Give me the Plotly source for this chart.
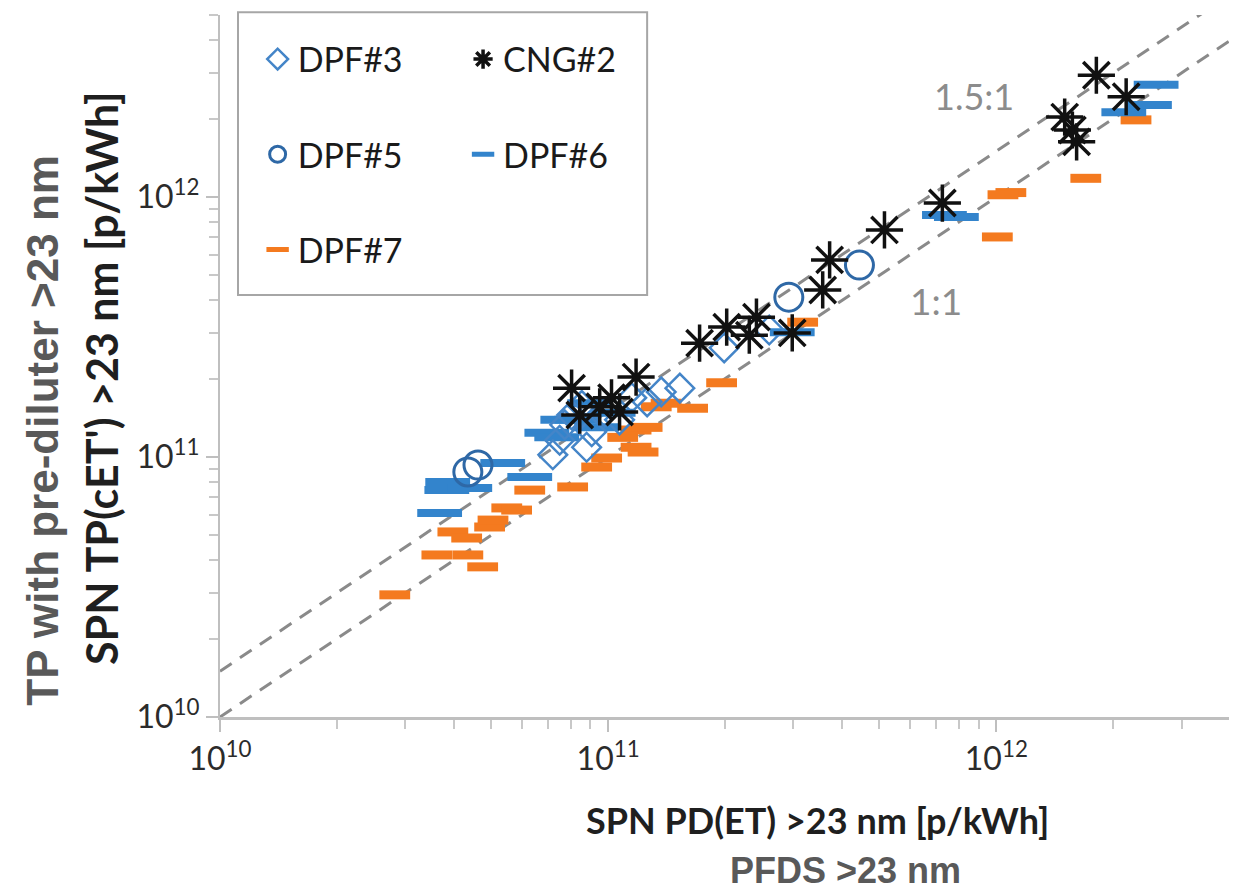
import plotly.graph_objects as go

# Particle number emissions [p/kWh]
dpf3_x = [7.20e10, 7.50e10, 7.73e10, 8.05e10, 8.55e10, 8.80e10, 9.07e10, 9.80e10,
          1.07e11, 1.15e11, 1.26e11, 1.37e11, 1.53e11, 1.99e11, 2.60e11]
dpf3_y = [1.02e11, 1.16e11, 1.33e11, 1.45e11, 1.58e11, 1.09e11, 1.25e11, 1.49e11,
          1.39e11, 1.69e11, 1.63e11, 1.78e11, 1.84e11, 2.63e11, 3.08e11]

dpf5_x = [4.35e10, 4.62e10, 2.92e11, 4.44e11]
dpf5_y = [8.76e10, 9.31e10, 4.12e11, 5.47e11]

cng2_x = [8.05e10, 8.45e10, 9.51e10, 1.02e11, 1.07e11, 1.18e11, 1.72e11, 2.02e11,
          2.31e11, 2.41e11, 2.98e11, 3.57e11, 3.72e11, 5.15e11, 7.26e11, 1.50e12,
          1.57e12, 1.61e12, 1.81e12, 2.16e12]
cng2_y = [1.84e11, 1.45e11, 1.56e11, 1.69e11, 1.49e11, 2.03e11, 2.74e11, 3.16e11,
          2.94e11, 3.45e11, 3.00e11, 4.39e11, 5.73e11, 7.47e11, 9.48e11, 2.03e12,
          1.81e12, 1.63e12, 2.94e12, 2.43e12]

dpf6_x = [3.68e10, 3.86e10, 3.84e10, 4.40e10, 5.35e10, 6.28e10, 6.95e10, 7.37e10,
          7.64e10, 8.30e10, 8.96e10, 9.34e10, 1.03e11, 2.98e11, 7.35e11, 7.89e11,
          2.58e12, 2.48e12, 2.13e12]
dpf6_y = [6.09e10, 8.01e10, 7.47e10, 7.60e10, 9.48e10, 8.38e10, 1.24e11, 1.19e11,
          1.39e11, 1.39e11, 1.61e11, 1.30e11, 1.48e11, 3.02e11, 8.53e11, 8.38e11,
          2.70e12, 2.26e12, 2.12e12]

dpf7_x = [2.82e10, 3.62e10, 4.35e10, 4.75e10, 3.98e10, 4.32e10, 4.95e10, 5.05e10,
          5.48e10, 5.81e10, 6.28e10, 8.10e10, 9.34e10, 9.91e10, 1.09e11, 1.18e11,
          1.18e11, 1.23e11, 1.26e11, 1.33e11, 1.41e11, 1.65e11, 1.96e11, 3.17e11,
          1.006e12, 1.09e12, 1.04e12, 1.70e12, 2.29e12]
dpf7_y = [2.95e10, 4.20e10, 4.20e10, 3.78e10, 5.15e10, 4.88e10, 5.38e10, 5.72e10,
          6.37e10, 6.25e10, 7.46e10, 7.67e10, 9.15e10, 9.91e10, 1.19e11, 1.27e11,
          1.09e11, 1.045e11, 1.30e11, 1.56e11, 1.61e11, 1.54e11, 1.93e11, 3.30e11,
          7.02e11, 1.04e12, 1.02e12, 1.18e12, 1.98e12]

# reference lines 1:1 and 1.5:1
ref_x = [1e10, 1e13]
ratios = [1.0, 1.5]

major_vals = [1e10, 1e11, 1e12]
major_text = ['10<sup>10</sup>', '10<sup>11</sup>', '10<sup>12</sup>']
minor_vals = [m * d for d in (1e10, 1e11, 1e12) for m in range(2, 10)]

fig = go.Figure()

for r in ratios:
    fig.add_trace(go.Scatter(
        x=ref_x, y=[r * v for v in ref_x], mode='lines',
        line=dict(color='#8a8a8a', width=3, dash='14px,10px'),
        showlegend=False, hoverinfo='skip'))

# name, x, y, symbol, size, color, line width, legend, rank
series = [
    ('DPF#7', dpf7_x, dpf7_y, 'line-ew-open', 22, '#f47a1f', 9, 'legend', 3),
    ('DPF#6', dpf6_x, dpf6_y, 'line-ew-open', 32, '#3384cc', 8, 'legend2', 2),
    ('DPF#3', dpf3_x, dpf3_y, 'diamond-open', 22, '#4485c8', 2.5, 'legend', 1),
    ('DPF#5', dpf5_x, dpf5_y, 'circle-open', 28, '#2e68a6', 3, 'legend', 2),
    ('CNG#2', cng2_x, cng2_y, 'asterisk-open', 31, '#111111', 3.5, 'legend2', 1),
]

for name, xs, ys, sym, size, color, lw, leg, rank in series:
    fig.add_trace(go.Scatter(
        x=xs, y=ys, mode='markers', name=name,
        marker=dict(symbol=sym, size=size, color=color,
                    line=dict(color=color, width=lw)),
        legend=leg, legendgroup=name, legendrank=rank))

axis_common = dict(
    type='log',
    showline=True, linecolor='#bfbfbf',
    ticks='outside', ticklen=12, tickwidth=2, tickcolor='#bfbfbf',
    tickvals=major_vals, ticktext=major_text,
    tickfont=dict(family='Lato', size=32, color='#2b2b2b'),
    minor=dict(tickvals=minor_vals, ticks='outside', ticklen=9,
               tickwidth=2, tickcolor='#c8c8c8', showgrid=False),
    showgrid=False, zeroline=False,
)

legend_style = dict(y=0.978, xanchor='left', yanchor='top',
                    bgcolor='rgba(0,0,0,0)', borderwidth=0, tracegroupgap=48,
                    font=dict(family='Lato', size=34, color='#1a1a1a'))

# the page body adds an 8px offset, so margins are shifted to compensate
fig.update_layout(
    width=1237, height=890,
    margin=dict(l=212, r=8, t=7, b=181),
    plot_bgcolor='white', paper_bgcolor='white',
    xaxis=dict(range=[10, 12.62], linewidth=3, **axis_common),
    yaxis=dict(range=[10, 12.7], linewidth=2, **axis_common),
    legend=dict(x=0.037, **legend_style),
    legend2=dict(x=0.239, **legend_style),
    shapes=[dict(type='rect', xref='paper', yref='paper',
                 x0=0.0177, x1=0.42, y0=0.601, y1=1.004,
                 line=dict(color='#a6a6a6', width=2), fillcolor='rgba(0,0,0,0)')],
)

def note(x, y, text, size, color, family='Lato', angle=0):
    fig.add_annotation(x=x, y=y, xref='paper', yref='paper', text=text,
                       xanchor='center', yanchor='middle', textangle=angle,
                       showarrow=False, font=dict(family=family, size=size, color=color))

note(0.741, 0.885, '1.5:1', 36, '#8c8c8c')
note(0.704, 0.594, '1:1', 37, '#8c8c8c')

# axis titles
note(0.588, -0.147, '<b>SPN PD(ET) >23 nm [p/kWh]</b>', 36, '#1f1f1f')
note(0.615, -0.218, '<b>PFDS >23 nm</b>', 36, '#595959', 'Liberation Sans Narrow, Liberation Sans')
note(-0.116, 0.483, "<b>SPN TP(cET') >23 nm [p/kWh]</b>", 43, '#1f1f1f', angle=-90)
note(-0.174, 0.408, '<b>TP with pre-diluter >23 nm</b>', 44, '#595959',
     'Liberation Sans Narrow, Liberation Sans', angle=-90)

fig.write_html('out.html')
